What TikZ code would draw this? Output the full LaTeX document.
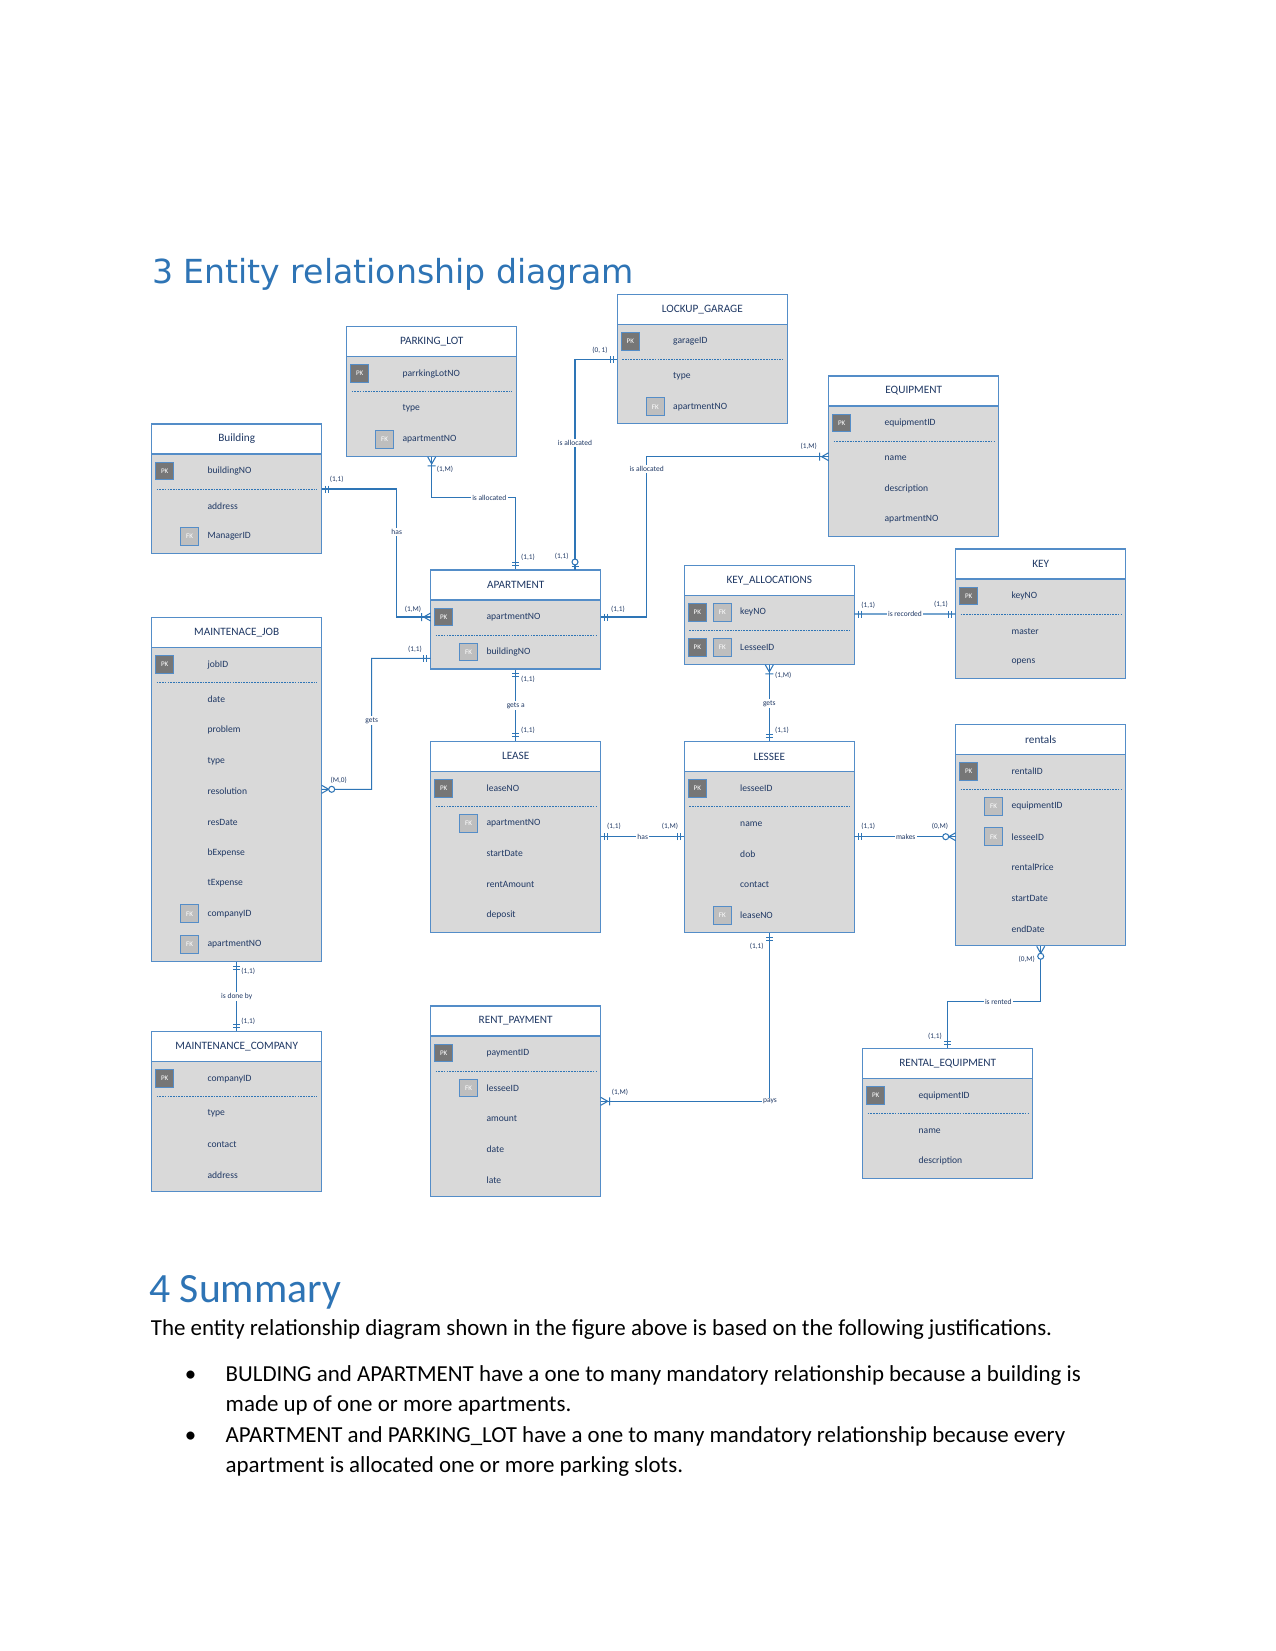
\documentclass[tikz,border=0pt]{standalone}
\usepackage{fontspec}
\setmainfont{Carlito}
\newfontfamily\titlefont{DejaVu Sans}
\usetikzlibrary{fit}
\definecolor{entb}{RGB}{84,141,200}
\definecolor{connc}{RGB}{46,117,182}
\definecolor{bodyc}{RGB}{217,217,217}
\definecolor{txtc}{RGB}{31,56,100}
\definecolor{pkc}{RGB}{118,118,118}
\definecolor{fkc}{RGB}{190,190,190}
\definecolor{headc}{RGB}{46,116,181}
\tikzset{
 entbox/.style={draw=entb, line width=0.55pt, fill=bodyc, inner sep=0pt},
 enthead/.style={draw=entb, line width=0.55pt, fill=white, inner sep=0pt},
 enttitle/.style={font=\fontsize{5.4}{6}\selectfont, text=txtc, inner sep=0pt},
 attr/.style={font=\fontsize{4.6}{5}\selectfont, text=txtc, anchor=west, inner sep=0pt},
 pkbox/.style={draw=entb, line width=0.5pt, fill=pkc, minimum width=8.6pt, minimum height=8.6pt, inner sep=0pt, font=\fontsize{3.4}{4}\selectfont, text=white},
 fkbox/.style={pkbox, fill=fkc},
 sepline/.style={draw=connc, line width=0.4pt, dash pattern=on 0.8pt off 0.5pt},
 conn/.style={draw=connc, line width=0.5pt},
 card/.style={font=\fontsize{3.5}{4}\selectfont, text=txtc, inner sep=0pt},
 rel/.style={font=\fontsize{3.6}{4}\selectfont, text=txtc, fill=white, inner sep=0.6pt},
 bodytxt/.style={font=\fontsize{11}{13}\selectfont, inner sep=0pt},
}
\newcommand\mkent[5]{%
 \pgfmathsetmacro\entbot{#3+99+30.6*(#4-1)}%
 \path (#2,#3) coordinate (#1-nw) ({#2+170},\entbot) coordinate (#1-se) ({#2+170},{#3+30}) coordinate (#1-hse);
 \node[entbox,fit=(#1-nw)(#1-se)] (#1) {};
 \node[enthead,fit=(#1-nw)(#1-hse)] (#1-h) {};
 \node[enttitle] at (#1-h.center) {#5};
 \draw[sepline] (#1-nw) ++(5,65) -- ++(160,0);
}
\newcommand\pkrow[2]{\path (#1-nw) ++(13,47) node[pkbox]{PK}; \path (#1-nw) ++(55.5,47) node[attr]{#2};}
\newcommand\attrows[2]{\foreach \rowtxt [count=\ri from 0] in {#2} {\path (#1-nw) ++(55.5,{82+30.6*\ri}) node[attr]{\rowtxt};}}
\newcommand\fkat[2]{\path (#1-nw) ++(38,{82+30.6*#2}) node[fkbox]{FK};}
\newcommand\mOne[2]{\draw[conn,shift={(#1)},rotate=#2] (4,-3.5)--(4,3.5) (7,-3.5)--(7,3.5);}
\newcommand\mMany[2]{\draw[conn,shift={(#1)},rotate=#2] (0,-4)--(7,0)--(0,4) (9,-4)--(9,4);}
\newcommand\mZMany[2]{\draw[conn,shift={(#1)},rotate=#2] (0,-4)--(7,0)--(0,4); \draw[conn,fill=white,shift={(#1)},rotate=#2] (10,0) circle[radius=3];}
\newcommand\mZOne[2]{\draw[conn,shift={(#1)},rotate=#2] (3.5,-3.5)--(3.5,3.5); \draw[conn,fill=white,shift={(#1)},rotate=#2] (8,0) circle[radius=3];}
\begin{document}
\begin{tikzpicture}[x=0.48pt,y=-0.48pt]
\useasboundingbox[fill=white] (0,0) rectangle (1275,1651);
% titles
\node[anchor=base west, font=\titlefont\fontsize{15.9}{19}\selectfont, text=headc, inner sep=0pt] (title) at (151.7,283.3) {3 Entity relationship diagram};
% entities
\mkent{bld}{151.7}{424}{2}{Building}
\pkrow{bld}{buildingNO}\attrows{bld}{address,ManagerID}\fkat{bld}{1}
\mkent{pl}{346.7}{326.7}{2}{PARKING\_LOT}
\pkrow{pl}{parrkingLotNO}\attrows{pl}{type,apartmentNO}\fkat{pl}{1}
\mkent{lg}{617.3}{294.3}{2}{LOCKUP\_GARAGE}
\pkrow{lg}{garageID}\attrows{lg}{type,apartmentNO}\fkat{lg}{1}
\mkent{eq}{828.7}{376}{3}{EQUIPMENT}
\pkrow{eq}{equipmentID}\attrows{eq}{name,description,apartmentNO}
\mkent{apt}{430.7}{570}{1}{APARTMENT}
\pkrow{apt}{apartmentNO}\attrows{apt}{buildingNO}\fkat{apt}{0}
\mkent{ka}{684.3}{565.3}{1}{KEY\_ALLOCATIONS}
\pkrow{ka}{keyNO}\attrows{ka}{LesseeID}\fkat{ka}{0}
\path (ka-nw) ++(38,47) node[fkbox]{FK};
\path (ka-nw) ++(13,82) node[pkbox]{PK};
\mkent{key}{955.7}{549}{2}{KEY}
\pkrow{key}{keyNO}\attrows{key}{master,opens}
\mkent{mj}{151.7}{617.7}{9}{MAINTENACE\_JOB}
\pkrow{mj}{jobID}\attrows{mj}{date,problem,type,resolution,resDate,bExpense,tExpense,companyID,apartmentNO}\fkat{mj}{7}\fkat{mj}{8}
\mkent{lease}{430.7}{741.3}{4}{LEASE}
\pkrow{lease}{leaseNO}\attrows{lease}{apartmentNO,startDate,rentAmount,deposit}\fkat{lease}{0}
\mkent{lessee}{684.3}{741.7}{4}{LESSEE}
\pkrow{lessee}{lesseeID}\attrows{lessee}{name,dob,contact,leaseNO}\fkat{lessee}{3}
\mkent{rent}{955.7}{724.3}{5}{rentals}
\pkrow{rent}{rentalID}\attrows{rent}{equipmentID,lesseeID,rentalPrice,startDate,endDate}\fkat{rent}{0}\fkat{rent}{1}
\mkent{re}{862.7}{1048.7}{2}{RENTAL\_EQUIPMENT}
\pkrow{re}{equipmentID}\attrows{re}{name,description}
\mkent{rp}{430.7}{1006}{4}{RENT\_PAYMENT}
\pkrow{rp}{paymentID}\attrows{rp}{lesseeID,amount,date,late}\fkat{rp}{0}
\mkent{mc}{151.7}{1031.7}{3}{MAINTENANCE\_COMPANY}
\pkrow{mc}{companyID}\attrows{mc}{type,contact,address}
% connector A: Building - APARTMENT
\path (bld-nw) ++(170,65) coordinate (a1);
\path (apt-nw) ++(0,47) coordinate (a2);
\draw[conn] (a1) -| (396.7,617) -- (a2);
\mOne{a1}{0}\mMany{a2}{180}
\node[card] at (336.7,479.3) {(1,1)};
\node[card] at (413,609) {(1,M)};
\node[rel] at (396.7,532.3) {has};
% B: PARKING_LOT - APARTMENT
\draw[conn] (pl.south) |- (515.7,497.7) -- (apt.north);
\mMany{pl.south}{-90}\mOne{apt.north}{90}
\node[card] at (445,469.3) {(1,M)};
\node[card] at (528,557) {(1,1)};
\node[rel] at (489.3,497.7) {is allocated};
% C: LOCKUP_GARAGE - APARTMENT
\path (lg-nw) ++(0,65) coordinate (c1);
\path (apt-nw) ++(144.3,0) coordinate (c2);
\draw[conn] (c1) -| (c2);
\mOne{c1}{180}\mZOne{c2}{90}
\node[card] at (600,350.7) {(0, 1)};
\node[card] at (561.7,556) {(1,1)};
\node[rel] at (575,443.3) {is allocated};
% D: EQUIPMENT - APARTMENT
\path (eq-nw) ++(0,80.7) coordinate (d1);
\path (apt-nw) ++(170,47) coordinate (d2);
\draw[conn] (d1) -| (646.7,617) -- (d2);
\mMany{d1}{180}\mOne{d2}{0}
\node[card] at (808.7,446) {(1,M)};
\node[card] at (618,609) {(1,1)};
\node[rel] at (646.7,469.3) {is allocated};
% E: APARTMENT - MAINTENACE_JOB
\path (apt-nw) ++(0,88.3) coordinate (e1);
\path (mj-nw) ++(170,171.6) coordinate (e2);
\draw[conn] (e1) -| (371.7,789.3) -- (e2);
\mOne{e1}{180}\mZMany{e2}{0}
\node[card] at (415,649) {(1,1)};
\node[card] at (338.7,780) {(M,0)};
\node[rel] at (371.7,720.3) {gets};
% F: APARTMENT - LEASE
\draw[conn] (apt.south) -- (lease.north);
\mOne{apt.south}{-90}\mOne{lease.north}{90}
\node[card] at (528,679) {(1,1)};
\node[card] at (528,730.7) {(1,1)};
\node[rel] at (515.7,705.3) {gets a};
% G: LEASE - LESSEE
\path (lease-nw) ++(170,95.4) coordinate (g1);
\path (lessee-nw) ++(0,95) coordinate (g2);
\draw[conn] (g1) -- (g2);
\mOne{g1}{0}\mOne{g2}{180}
\node[card] at (614,826.7) {(1,1)};
\node[card] at (670,826.7) {(1,M)};
\node[rel] at (642.7,836.7) {has};
% H: KEY_ALLOCATIONS - KEY
\path (ka-nw) ++(170,48.7) coordinate (h1);
\path (key-nw) ++(0,65) coordinate (h2);
\draw[conn] (h1) -- (h2);
\mOne{h1}{0}\mOne{h2}{180}
\node[card] at (868.3,605.3) {(1,1)};
\node[card] at (941,604.7) {(1,1)};
\node[rel] at (905,614) {is recorded};
% I: KEY_ALLOCATIONS - LESSEE
\draw[conn] (ka.south) -- (lessee.north);
\mMany{ka.south}{-90}\mOne{lessee.north}{90}
\node[card] at (783.3,675) {(1,M)};
\node[card] at (782,730.7) {(1,1)};
\node[rel] at (769.3,703.3) {gets};
% J: LESSEE - rentals
\path (lessee-nw) ++(170,95) coordinate (j1);
\path (rent-nw) ++(0,112.4) coordinate (j2);
\draw[conn] (j1) -- (j2);
\mOne{j1}{0}\mZMany{j2}{180}
\node[card] at (868.3,826.7) {(1,1)};
\node[card] at (940,826.7) {(0,M)};
\node[rel] at (905.7,836.7) {makes};
% K: rentals - RENTAL_EQUIPMENT
\draw[conn] (rent.south) |- (947.7,1001.7) -- (re.north);
\mZMany{rent.south}{-90}\mOne{re.north}{90}
\node[card] at (1026.7,959) {(0,M)};
\node[card] at (935,1036) {(1,1)};
\node[rel] at (998.3,1001.7) {is rented};
% L: LESSEE - RENT_PAYMENT
\path (rp-nw) ++(170,95.3) coordinate (l2);
\draw[conn] (lessee.south) |- (l2);
\mOne{lessee.south}{-90}\mMany{l2}{0}
\node[card] at (756.7,946.3) {(1,1)};
\node[card] at (620,1092.3) {(1,M)};
\node[rel] at (770,1101.3) {pays};
% M: MAINTENACE_JOB - MAINTENANCE_COMPANY
\draw[conn] (mj.south) -- (mc.north);
\mOne{mj.south}{-90}\mOne{mc.north}{90}
\node[card] at (248.3,971.7) {(1,1)};
\node[card] at (248.3,1021) {(1,1)};
\node[rel] at (236.7,996.7) {is done by};
% summary
\node[anchor=base west, font=\fontsize{20}{24}\selectfont, text=headc, inner sep=0pt] (sum) at (149,1302) {4 Summary};
\node[anchor=base west, bodytxt] (p1) at (150.5,1335) {The entity relationship diagram shown in the figure above is based on the following justifications.};
\node[anchor=base, bodytxt] (b1) at (190.6,1381.7) {\textbullet};
\node[anchor=base west, bodytxt] (l1) at (225.3,1381.7) {BULDING and APARTMENT have a one to many mandatory relationship because a building is};
\node[anchor=base west, bodytxt] (l2t) at (225.3,1411.7) {made up of one or more apartments.};
\node[anchor=base, bodytxt] (b2) at (190.6,1442.7) {\textbullet};
\node[anchor=base west, bodytxt] (l3) at (225.3,1442.7) {APARTMENT and PARKING\_LOT have a one to many mandatory relationship because every};
\node[anchor=base west, bodytxt] (l4) at (225.3,1472.3) {apartment is allocated one or more parking slots.};
\end{tikzpicture}
\end{document}
